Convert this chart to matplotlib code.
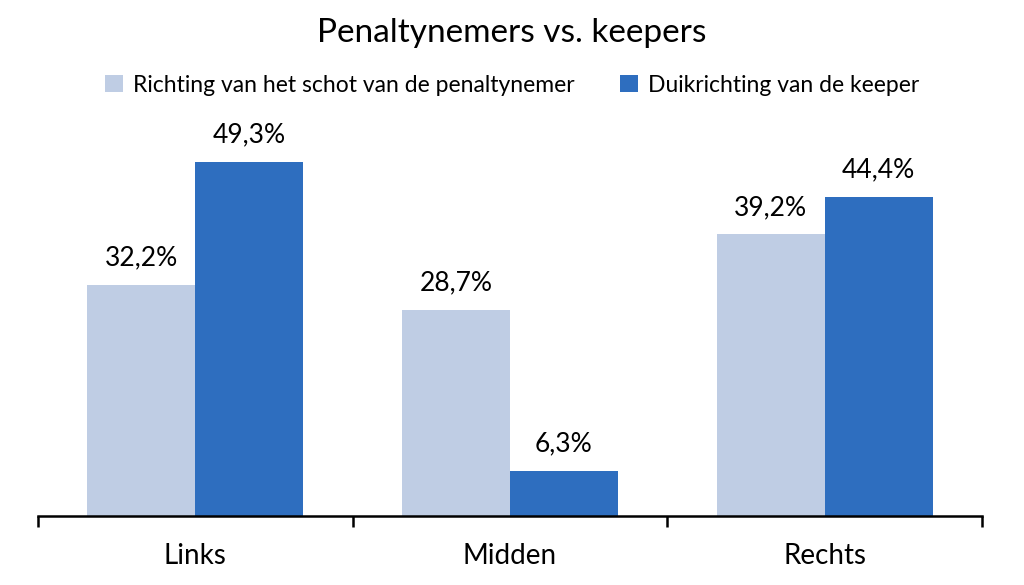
import matplotlib.pyplot as plt
import numpy as np

plt.rcParams['font.family'] = ['Lato', 'DejaVu Sans']

categories = ["Links", "Midden", "Rechts"]
schot = [32.2, 28.7, 39.2]
duik = [49.3, 6.3, 44.4]
series_names = ["Richting van het schot van de penaltynemer", "Duikrichting van de keeper"]

light = "#BFCDE4"
dark = "#2E6EBF"

fig = plt.figure(figsize=(10.24, 5.85), dpi=100)
ax = fig.add_axes([38/1024, 1 - 516/585, 944/1024, 395/585])

x = np.arange(len(categories))
w = 0.343
b1 = ax.bar(x - w/2, schot, w, color=light, label=series_names[0])
b2 = ax.bar(x + w/2, duik, w, color=dark, label=series_names[1])

for bars, vals in ((b1, schot), (b2, duik)):
    for r, v in zip(bars, vals):
        ax.text(r.get_x() + r.get_width()/2, v + 2.0, f"{v:.1f}%".replace(".", ","),
                ha="center", va="bottom", fontsize=19)

ax.set_xlim(-0.5, 2.5)
ax.set_ylim(0, 55)
ax.set_yticks([])
for s in ("left", "right", "top"):
    ax.spines[s].set_visible(False)
ax.spines["bottom"].set_linewidth(1.8)
ax.set_xticks([-0.5, 0.5, 1.5, 2.5])
ax.set_xticklabels([])
ax.tick_params(axis="x", length=8, width=1.8, direction="out")
for i, c in enumerate(categories):
    ax.text(i, -5.6, c, ha="center", va="center", fontsize=20)

fig.text(0.5, 1 - 33/585, "Penaltynemers vs. keepers", ha="center", va="center", fontsize=24)
fig.legend(loc="center", bbox_to_anchor=(0.5, 1 - 85/585), ncol=2, frameon=False,
           fontsize=16.5, handlelength=0.8, handleheight=0.8, handletextpad=0.4, columnspacing=2.0)

fig.savefig("out.png", dpi=100)
